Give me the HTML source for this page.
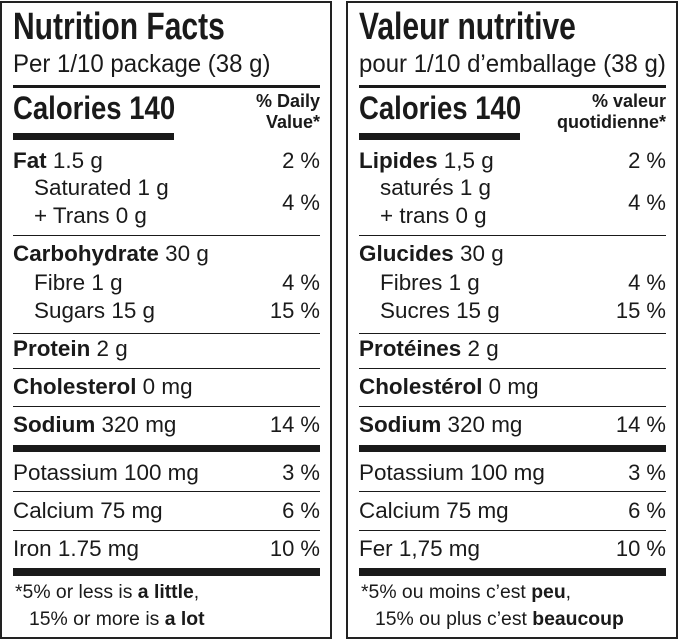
<!DOCTYPE html>
<html><head><meta charset="utf-8"><style>
html,body{margin:0;padding:0;background:#fff;}
body{width:679px;height:640px;position:relative;overflow:hidden;font-family:"Liberation Sans",Arial,sans-serif;color:#1a1a1a;}
.p{position:absolute;top:1px;width:328px;height:634px;border:2px solid #222;box-sizing:content-box;}
.t{position:absolute;white-space:nowrap;transform-origin:0 50%;transform:scaleX(1.02);line-height:1;font-size:22px;}
.r{position:absolute;white-space:nowrap;transform-origin:100% 50%;transform:scaleX(1);line-height:1;text-align:right;font-size:22px;}
.h{transform:scaleX(0.79);font-size:38px;font-weight:bold;}
.c{transform:scaleX(0.86);font-size:32px;font-weight:bold;}
.s{font-size:25px;transform:scaleX(0.96);}
.f{font-size:19px;}
.d{font-size:18px;font-weight:bold;}
.l{position:absolute;background:#1a1a1a;}
b{font-weight:bold;}
</style></head><body>

<div class="p" style="left:0px"></div>
<div class="p" style="left:346px"></div>

<!-- LEFT -->
<div class="t h" style="left:13px;top:8px;">Nutrition Facts</div>
<div class="t s" style="left:13px;top:52px;">Per 1/10 package (38 g)</div>
<div class="l" style="left:13px;top:85px;width:307px;height:3px"></div>
<div class="t c" style="left:13px;top:92px;">Calories 140</div>
<div class="r d" style="right:359px;top:92px;">% Daily</div>
<div class="r d" style="right:359px;top:113px;">Value*</div>
<div class="l" style="left:13px;top:133px;width:161px;height:7px"></div>

<div class="t" style="left:13px;top:150px;"><b>Fat</b> 1.5 g</div>
<div class="r" style="right:359px;top:150px;">2 %</div>
<div class="t" style="left:34px;top:177px;">Saturated 1 g</div>
<div class="t" style="left:34px;top:205px;">+ Trans 0 g</div>
<div class="r" style="right:359px;top:192px;">4 %</div>
<div class="l" style="left:13px;top:235px;width:307px;height:1px"></div>
<div class="t" style="left:13px;top:243px;"><b>Carbohydrate</b> 30 g</div>
<div class="t" style="left:34px;top:272px;">Fibre 1 g</div>
<div class="r" style="right:359px;top:272px;">4 %</div>
<div class="t" style="left:34px;top:300px;">Sugars 15 g</div>
<div class="r" style="right:359px;top:300px;">15 %</div>
<div class="l" style="left:13px;top:333px;width:307px;height:1px"></div>
<div class="t" style="left:13px;top:338px;"><b>Protein</b> 2 g</div>
<div class="l" style="left:13px;top:368px;width:307px;height:1px"></div>
<div class="t" style="left:13px;top:376px;"><b>Cholesterol</b> 0 mg</div>
<div class="l" style="left:13px;top:406px;width:307px;height:1px"></div>
<div class="t" style="left:13px;top:414px;"><b>Sodium</b> 320 mg</div>
<div class="r" style="right:359px;top:414px;">14 %</div>
<div class="l" style="left:13px;top:445px;width:307px;height:7px"></div>
<div class="t" style="left:13px;top:462px;">Potassium 100 mg</div>
<div class="r" style="right:359px;top:462px;">3 %</div>
<div class="l" style="left:13px;top:491px;width:307px;height:1px"></div>
<div class="t" style="left:13px;top:500px;">Calcium 75 mg</div>
<div class="r" style="right:359px;top:500px;">6 %</div>
<div class="l" style="left:13px;top:530px;width:307px;height:1px"></div>
<div class="t" style="left:13px;top:538px;">Iron 1.75 mg</div>
<div class="r" style="right:359px;top:538px;">10 %</div>
<div class="l" style="left:13px;top:568px;width:307px;height:8px"></div>
<div class="t f" style="left:15px;top:583px;">*5% or less is <b>a little</b>,</div>
<div class="t f" style="left:29px;top:610px;">15% or more is <b>a lot</b></div>

<!-- RIGHT -->
<div class="t h" style="left:359px;top:8px;">Valeur nutritive</div>
<div class="t s" style="left:359px;top:52px;">pour 1/10 d’emballage (38 g)</div>
<div class="l" style="left:359px;top:85px;width:307px;height:3px"></div>
<div class="t c" style="left:359px;top:92px;">Calories 140</div>
<div class="r d" style="right:13px;top:92px;">% valeur</div>
<div class="r d" style="right:13px;top:113px;">quotidienne*</div>
<div class="l" style="left:359px;top:133px;width:161px;height:7px"></div>

<div class="t" style="left:359px;top:150px;"><b>Lipides</b> 1,5 g</div>
<div class="r" style="right:13px;top:150px;">2 %</div>
<div class="t" style="left:380px;top:177px;">saturés 1 g</div>
<div class="t" style="left:380px;top:205px;">+ trans 0 g</div>
<div class="r" style="right:13px;top:192px;">4 %</div>
<div class="l" style="left:359px;top:235px;width:307px;height:1px"></div>
<div class="t" style="left:359px;top:243px;"><b>Glucides</b> 30 g</div>
<div class="t" style="left:380px;top:272px;">Fibres 1 g</div>
<div class="r" style="right:13px;top:272px;">4 %</div>
<div class="t" style="left:380px;top:300px;">Sucres 15 g</div>
<div class="r" style="right:13px;top:300px;">15 %</div>
<div class="l" style="left:359px;top:333px;width:307px;height:1px"></div>
<div class="t" style="left:359px;top:338px;"><b>Protéines</b> 2 g</div>
<div class="l" style="left:359px;top:368px;width:307px;height:1px"></div>
<div class="t" style="left:359px;top:376px;"><b>Cholestérol</b> 0 mg</div>
<div class="l" style="left:359px;top:406px;width:307px;height:1px"></div>
<div class="t" style="left:359px;top:414px;"><b>Sodium</b> 320 mg</div>
<div class="r" style="right:13px;top:414px;">14 %</div>
<div class="l" style="left:359px;top:445px;width:307px;height:7px"></div>
<div class="t" style="left:359px;top:462px;">Potassium 100 mg</div>
<div class="r" style="right:13px;top:462px;">3 %</div>
<div class="l" style="left:359px;top:491px;width:307px;height:1px"></div>
<div class="t" style="left:359px;top:500px;">Calcium 75 mg</div>
<div class="r" style="right:13px;top:500px;">6 %</div>
<div class="l" style="left:359px;top:530px;width:307px;height:1px"></div>
<div class="t" style="left:359px;top:538px;">Fer 1,75 mg</div>
<div class="r" style="right:13px;top:538px;">10 %</div>
<div class="l" style="left:359px;top:568px;width:307px;height:8px"></div>
<div class="t f" style="left:361px;top:583px;">*5% ou moins c’est <b>peu</b>,</div>
<div class="t f" style="left:375px;top:610px;">15% ou plus c’est <b>beaucoup</b></div>

</body></html>
